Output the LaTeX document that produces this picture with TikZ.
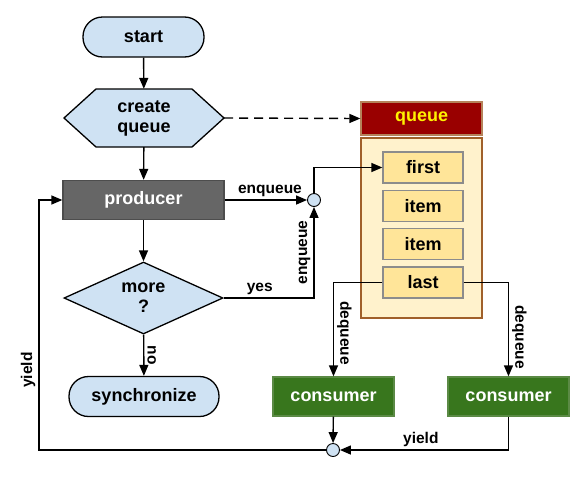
\documentclass[tikz,border=0pt]{standalone}
\usepackage{fontspec}
\setmainfont{Liberation Sans}
\usetikzlibrary{arrows.meta,shapes.geometric}
\definecolor{lblue}{HTML}{CFE2F3}
\definecolor{prodgray}{HTML}{666666}
\definecolor{prodedge}{HTML}{4D4D4D}
\definecolor{qred}{HTML}{990000}
\definecolor{qredge}{HTML}{B5835A}
\definecolor{qbody}{HTML}{FFF2CC}
\definecolor{qbedge}{HTML}{A0602A}
\definecolor{qitem}{HTML}{FFE599}
\definecolor{cgreen}{HTML}{38761D}
\definecolor{cgedge}{HTML}{5B8A45}
\begin{document}
\begin{tikzpicture}[x=1pt,y=-1pt,
  every node/.style={font=\bfseries\fontsize{18}{20}\selectfont,align=center,inner sep=0pt},
  term/.style={draw=black,line width=1.3pt,fill=lblue,rounded corners=19.5pt,minimum height=40pt},
  proc/.style={draw=#1,line width=1.3pt,minimum height=39pt,text=white},
  itembox/.style={draw=black!45,line width=1.3pt,fill=qitem,minimum width=80pt,minimum height=31pt},
  joint/.style={circle,draw=black,line width=0.9pt,fill=lblue,minimum size=13pt},
  lbl/.style={font=\bfseries\fontsize{15.5}{17}\selectfont,inner sep=3pt},
  arr/.style={line width=1.4pt,-{Triangle[length=11pt,width=9pt]}}]
\useasboundingbox (0,0) rectangle (585,477);
% left column
\node[term,minimum width=121pt] (start) at (143.5,37) {start};
\draw[line width=1.3pt,fill=lblue] (64,118) -- (96,89) -- (192,89) -- (224,118) -- (192,147) -- (96,147) -- cycle;
\node[minimum width=160pt,minimum height=58pt] (cq) at (144,118) {create\\queue};
\node[proc=prodedge,fill=prodgray,minimum width=161pt] (prod) at (143.5,200) {producer};
\node[diamond,aspect=2.2,draw=black,line width=1.3pt,fill=lblue,minimum width=159pt,minimum height=72pt] (more) at (143.5,298) {more\\?};
\node[term,minimum width=150pt] (sync) at (144,396.5) {synchronize};
% queue
\node[draw=qredge,line width=1.3pt,fill=qred,text=yellow,minimum width=121pt,minimum height=33pt] (qhead) at (421.5,118.5) {queue};
\node[draw=qbedge,line width=1.5pt,fill=qbody,minimum width=121pt,minimum height=180pt] (qbody) at (421.5,228) {};
\node[itembox] (first) at (423,167.5) {first};
\node[itembox] (item1) at (423,206) {item};
\node[itembox] (item2) at (423,244) {item};
\node[itembox] (last) at (423,282.5) {last};
% consumers
\node[proc=cgedge,fill=cgreen,minimum width=121pt] (cons1) at (333.5,396.5) {consumer};
\node[proc=cgedge,fill=cgreen,minimum width=121pt] (cons2) at (508.5,396.5) {consumer};
\node[joint] (jtop) at (314,200) {};
\node[joint] (jbot) at (333,450) {};
\coordinate (ycorner) at (39,450);
% connectors
\draw[arr] (start) -- (cq);
\draw[arr,dash pattern=on 9pt off 6pt] (cq.east) -- (qhead.west);
\draw[arr] (cq) -- (prod);
\draw[arr] (prod) -- node[lbl,above,pos=0.55]{enqueue} (jtop);
\draw[arr] (jtop) |- (first);
\draw[arr] (prod) -- (more);
\draw[arr] (more.east) -| node[lbl,above,pos=0.2]{yes} node[lbl,rotate=90,above,pos=0.75]{enqueue} (jtop);
\draw[arr] (more) -- node[lbl,rotate=-90,above]{no} (sync);
\draw[arr] (last.west) -| node[lbl,rotate=-90,above,pos=0.77]{dequeue} (cons1);
\draw[arr] (last.east) -| node[lbl,rotate=-90,above,pos=0.79]{dequeue} (cons2);
\draw[arr] (cons1) -- (jbot);
\draw[arr] (cons2.south) |- node[lbl,above,pos=0.76]{yield} (jbot);
\draw[arr] (jbot.west) -- (ycorner) |- node[lbl,rotate=90,above,pos=0.16]{yield} (prod.west);
\end{tikzpicture}
\end{document}
